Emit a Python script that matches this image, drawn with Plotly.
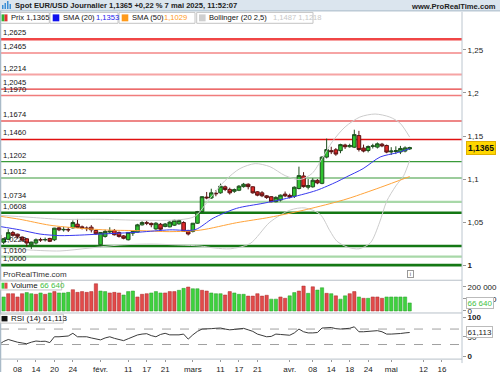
import plotly.graph_objects as go
import pandas as pd

W, H = 500, 375

# ---------------- data ----------------
opens = [1.0351, 1.0266, 1.0300, 1.0378, 1.0360, 1.0326, 1.0306, 1.0237, 1.0257, 1.0296,
         1.0293, 1.0310, 1.0295, 1.0433, 1.0410, 1.0415, 1.0433, 1.0476, 1.0445, 1.0432,
         1.0441, 1.0403, 1.0237, 1.0334, 1.0385, 1.0403, 1.0380, 1.0340, 1.0295, 1.0372,
         1.0384, 1.0468, 1.0493, 1.0485, 1.0421, 1.0475, 1.0450, 1.0445, 1.0464, 1.0480,
         1.0495, 1.0400, 1.0392, 1.0487, 1.0622, 1.0790, 1.0780, 1.0835, 1.0840, 1.0910,
         1.0880, 1.0858, 1.0870, 1.0912, 1.0940, 1.0910, 1.0852, 1.0840, 1.0805, 1.0795,
         1.0737, 1.0756, 1.0825, 1.0810, 1.0800, 1.0890, 1.1036, 1.0905, 1.0910, 1.0985,
         1.0950, 1.1255, 1.1330, 1.1340, 1.1330, 1.1395, 1.1375, 1.1370, 1.1505, 1.1360,
         1.1332, 1.1380, 1.1371, 1.1405, 1.1390, 1.1315, 1.1320, 1.1315, 1.1325, 1.1350]
highs = [1.0367, 1.0315, 1.0418, 1.0398, 1.0365, 1.0335, 1.0315, 1.0272, 1.0310, 1.0318,
         1.0320, 1.0318, 1.0433, 1.0440, 1.0445, 1.0440, 1.0520, 1.0537, 1.0460, 1.0450,
         1.0465, 1.0410, 1.0385, 1.0412, 1.0440, 1.0420, 1.0390, 1.0350, 1.0385, 1.0400,
         1.0480, 1.0510, 1.0515, 1.0495, 1.0500, 1.0490, 1.0490, 1.0510, 1.0528, 1.0530,
         1.0510, 1.0410, 1.0490, 1.0630, 1.0800, 1.0850, 1.0888, 1.0870, 1.0947, 1.0925,
         1.0900, 1.0890, 1.0930, 1.0955, 1.0950, 1.0915, 1.0860, 1.0860, 1.0815, 1.0800,
         1.0800, 1.0820, 1.0855, 1.0830, 1.0915, 1.1144, 1.1080, 1.1000, 1.1010, 1.1000,
         1.1265, 1.1470, 1.1375, 1.1360, 1.1410, 1.1410, 1.1410, 1.1573, 1.1560, 1.1400,
         1.1390, 1.1410, 1.1425, 1.1420, 1.1400, 1.1370, 1.1380, 1.1385, 1.1380, 1.1375]
lows = [1.0226, 1.0243, 1.0290, 1.0330, 1.0310, 1.0280, 1.0215, 1.0188, 1.0240, 1.0270,
        1.0275, 1.0268, 1.0280, 1.0395, 1.0390, 1.0385, 1.0425, 1.0430, 1.0415, 1.0395,
        1.0380, 1.0350, 1.0210, 1.0320, 1.0370, 1.0345, 1.0320, 1.0300, 1.0287, 1.0340,
        1.0380, 1.0460, 1.0465, 1.0440, 1.0410, 1.0410, 1.0440, 1.0440, 1.0455, 1.0470,
        1.0385, 1.0345, 1.0380, 1.0480, 1.0610, 1.0765, 1.0770, 1.0800, 1.0830, 1.0860,
        1.0820, 1.0840, 1.0860, 1.0900, 1.0880, 1.0830, 1.0800, 1.0790, 1.0770, 1.0730,
        1.0730, 1.0740, 1.0790, 1.0775, 1.0780, 1.0880, 1.0900, 1.0880, 1.0900, 1.0940,
        1.0940, 1.1240, 1.1290, 1.1270, 1.1300, 1.1350, 1.1365, 1.1360, 1.1320, 1.1310,
        1.1310, 1.1355, 1.1355, 1.1370, 1.1300, 1.1280, 1.1290, 1.1290, 1.1310, 1.1340]
closes = [1.0266, 1.0307, 1.0378, 1.0346, 1.0335, 1.0290, 1.0257, 1.0268, 1.0295, 1.0293,
          1.0298, 1.0277, 1.0430, 1.0410, 1.0415, 1.0410, 1.0495, 1.0438, 1.0430, 1.0425,
          1.0410, 1.0364, 1.0380, 1.0392, 1.0395, 1.0353, 1.0334, 1.0312, 1.0380, 1.0392,
          1.0468, 1.0495, 1.0488, 1.0470, 1.0487, 1.0418, 1.0478, 1.0500, 1.0520, 1.0518,
          1.0392, 1.0362, 1.0487, 1.0622, 1.0795, 1.0782, 1.0840, 1.0830, 1.0917, 1.0879,
          1.0840, 1.0878, 1.0917, 1.0940, 1.0912, 1.0840, 1.0813, 1.0806, 1.0785, 1.0737,
          1.0787, 1.0813, 1.0805, 1.0790, 1.0905, 1.1040, 1.0912, 1.0925, 1.0986, 1.0955,
          1.1255, 1.1343, 1.1318, 1.1290, 1.1400, 1.1375, 1.1390, 1.1516, 1.1343, 1.1325,
          1.1378, 1.1385, 1.1409, 1.1385, 1.1313, 1.1325, 1.1330, 1.1355, 1.1362, 1.1365]

volumes = [120000, 116000, 143000, 143000, 116000, 143000, 152000, 143000, 138000, 149000,
           138000, 149000, 160000, 149000, 149000, 154000, 176000, 154000, 160000, 154000,
           160000, 225000, 165000, 160000, 149000, 154000, 149000, 132000, 160000, 165000,
           116000, 138000, 143000, 149000, 160000, 149000, 149000, 160000, 160000, 171000,
           187000, 198000, 184000, 184000, 171000, 165000, 149000, 143000, 143000, 132000,
           160000, 149000, 138000, 138000, 123000, 123000, 143000, 123000, 130000, 98000,
           98000, 116000, 105000, 125000, 152000, 165000, 206000, 146000, 200000, 173000,
           192000, 146000, 143000, 125000, 98000, 125000, 143000, 160000, 116000, 105000,
           105000, 116000, 116000, 105000, 116000, 116000, 116000, 116000, 116000, 66640]
volume_up = [0, 1, 0, 0, 0, 0, 1, 1, 0, 1,
             0, 1, 0, 1, 1, 1, 0, 0, 0, 0,
             0, 0, 1, 1, 0, 0, 0, 1, 1, 1,
             0, 0, 0, 1, 1, 1, 0, 0, 0, 1,
             1, 0, 1, 1, 0, 0, 1, 1, 1, 0,
             0, 1, 1, 1, 0, 0, 0, 0, 0, 1,
             1, 0, 0, 1, 1, 0, 0, 1, 0, 1,
             1, 0, 1, 0, 1, 1, 0, 0, 1, 0,
             1, 0, 0, 0, 1, 1, 1, 1, 1, 1]

rsi = [30, 38, 43, 39, 36, 34, 32, 36, 39, 38,
       38.5, 35, 50, 50, 50.4, 52, 59, 50, 50, 50,
       47, 44, 42, 47, 50, 46, 43, 40, 45, 50,
       54.7, 57, 58, 53, 50, 56, 59, 55, 55, 55,
       57, 44, 55, 64, 70, 70, 71, 72, 72.6, 70,
       68, 69, 71, 71.8, 68, 64, 57, 53, 50, 51,
       57, 56, 55, 54, 60, 70, 63, 60, 60, 61,
       72.6, 73, 74, 71, 70, 71, 72, 75.8, 63, 63,
       64, 64.5, 65.8, 63, 57, 57, 57, 58.5, 60, 61.113]

# indicator lines read at points along the picture (x = trading-day index)
sma20_x = [0.2, 4.5, 8.9, 13.2, 17.5, 21.9, 26.2, 30.5, 37.0, 42.5, 46.4, 51.5, 57.2, 62.3, 68.8, 73.2, 75.3, 78.9, 82.6, 86.2, 89]
sma20_y = [1.0449, 1.0410, 1.0361, 1.0343, 1.0349, 1.0361, 1.0372, 1.0384, 1.0410, 1.0412, 1.0545,
           1.0660, 1.0718, 1.0775, 1.0868, 1.0968, 1.1025, 1.1121, 1.1256, 1.1305, 1.1353]
sma50_x = [0.2, 4.5, 11.0, 17.5, 24.0, 30.5, 37.0, 43.6, 51.5, 58.7, 65.9, 73.2, 76.1, 82.6, 89]
sma50_y = [1.0568, 1.0533, 1.0464, 1.0429, 1.0407, 1.0401, 1.0389, 1.0407, 1.0493, 1.0556, 1.0637,
           1.0735, 1.0781, 1.0902, 1.1029]
bb_up_x = [0.2, 6.7, 13.2, 21.9, 30.5, 39.2, 42.5, 45.7, 49.0, 52.2, 55.5, 58.7, 62.0, 65.2, 67.8,
           70.0, 72.2, 75.0, 78.2, 81.5, 84.7, 86.9, 89]
bb_up_y = [1.0579, 1.0556, 1.0533, 1.0533, 1.0522, 1.0528, 1.0568, 1.0775, 1.0983, 1.1121, 1.1179,
           1.1144, 1.1040, 1.0994, 1.1063, 1.1236, 1.1432, 1.1605, 1.1720, 1.1755, 1.1720, 1.1650, 1.1487]
bb_lo_x = [0.2, 6.7, 13.2, 19.7, 26.2, 32.7, 39.2, 43.6, 46.8, 50.1, 54.4, 58.7, 63.1, 66.3, 69.6,
           71.7, 73.2, 75.5, 78.0, 80.5, 82.5, 84.0, 86.0, 87.7, 89]
bb_lo_y = [1.0199, 1.0176, 1.0165, 1.0199, 1.0234, 1.0245, 1.0234, 1.0222, 1.0199, 1.0190, 1.0250,
           1.0499, 1.0640, 1.0665, 1.0590, 1.0400, 1.0280, 1.0210, 1.0190, 1.0260, 1.0500, 1.0740,
           1.0920, 1.1040, 1.1218]

levels = [1.2625, 1.2465, 1.2214, 1.2045, 1.1970, 1.1674, 1.1460,
          1.1202, 1.1012, 1.0734, 1.0608, 1.0222, 1.0100, 1.0000]
level_labels = ["1,2625", "1,2465", "1,2214", "1,2045", "1,1970", "1,1674", "1,1460",
                "1,1202", "1,1012", "1,0734", "1,0608", "1,0222", "1,0100", "1,0000"]
level_colors = ["#f04646", "#f6a4a4", "#f6a4a4", "#e63a3a", "#f07c7c", "#dd1010", "#e01010",
                "#3a9a3a", "#3a9a3a", "#a8d8a8", "#147814", "#147814", "#a8d8a8", "#147814"]
level_widths = [2.5, 2, 2, 1.2, 1.6, 1.2, 1.5, 1.2, 1.2, 2.2, 2.6, 2.6, 2.2, 2.6]

tick_dates = ["2025-01-08", "2025-01-14", "2025-01-20", "2025-01-24", "2025-02-03", "2025-02-11",
              "2025-02-17", "2025-02-21", "2025-03-03", "2025-03-11", "2025-03-17", "2025-03-21",
              "2025-04-01", "2025-04-08", "2025-04-14", "2025-04-18", "2025-04-24", "2025-05-01",
              "2025-05-12", "2025-05-16"]
tick_text = ["08", "14", "20", "24", "févr.", "11", "17", "21", "mars", "11", "17", "21",
             "avr.", "08", "14", "18", "24", "mai", "12", "16"]

# ---------------- figure ----------------
calendar = pd.bdate_range("2025-01-02", "2025-05-30")
cal_index = {d.strftime("%Y-%m-%d"): k for k, d in enumerate(calendar)}
xi = list(range(len(closes)))
tickvals = [cal_index[d] for d in tick_dates]

FONT = "Liberation Sans"
AX_X = 462 / W


def yp(pix):
    return 1 - pix / H


def xp(pix):
    return pix / W


fig = go.Figure()

for xs, ys, col in [(bb_up_x, bb_up_y, "#cccccc"), (bb_lo_x, bb_lo_y, "#cccccc"),
                    (sma50_x, sma50_y, "#ffa33a"), (sma20_x, sma20_y, "#3838ee")]:
    fig.add_trace(go.Scatter(x=xs, y=ys, mode="lines", line=dict(color=col, width=1, shape="spline", smoothing=0.8),
                             hoverinfo="skip", xaxis="x", yaxis="y"))

fig.add_trace(go.Candlestick(
    x=xi, open=opens, high=highs, low=lows, close=closes,
    increasing=dict(line=dict(color="#1f4f1f", width=1), fillcolor="#2fc42f"),
    decreasing=dict(line=dict(color="#5a1414", width=1), fillcolor="#e02828"),
    whiskerwidth=0, hoverinfo="skip", xaxis="x", yaxis="y"))

fig.add_trace(go.Bar(
    x=xi, y=volumes, width=0.72,
    marker=dict(color=["#3ed23e" if u else "#e24a4a" for u in volume_up],
                line=dict(color=["#2a9a2a" if u else "#a82a2a" for u in volume_up], width=0.5)),
    hoverinfo="skip", xaxis="x", yaxis="y2"))

fig.add_trace(go.Scatter(x=xi, y=rsi, mode="lines", line=dict(color="#3a3a3a", width=1),
                         hoverinfo="skip", xaxis="x", yaxis="y3"))

shapes = []
annos = []

# header band
shapes.append(dict(type="rect", xref="paper", yref="paper", x0=0, x1=1, y0=yp(11), y1=1,
                   fillcolor="#dbe5ee", line=dict(width=0), layer="below"))
shapes.append(dict(type="line", xref="paper", yref="paper", x0=0, x1=1, y0=yp(11), y1=yp(11),
                   line=dict(color="#a9bac8", width=1)))
for bx, bh in [(2, 4), (4.5, 6), (7, 8), (9.5, 5)]:
    shapes.append(dict(type="rect", xref="paper", yref="paper", x0=xp(bx), x1=xp(bx + 1.5),
                       y0=yp(9), y1=yp(9 - bh), fillcolor="#3d8fd6", line=dict(width=0)))
annos.append(dict(x=xp(13), y=yp(5.5), xref="paper", yref="paper", xanchor="left", yanchor="middle",
                  text="<b>Spot EUR/USD Journalier 1,1365 +0,22 % 7 mai 2025, 11:52:07</b>",
                  showarrow=False, font=dict(family=FONT, size=7.6, color="#222")))
annos.append(dict(x=xp(498), y=yp(7), xref="paper", yref="paper", xanchor="right", yanchor="middle",
                  text="<b>www.ProRealTime.com</b>", showarrow=False,
                  font=dict(family=FONT, size=7.6, color="#222")))

# legend row boxes
for x0, x1 in [(0, 49.3), (50, 118), (119, 195), (196.7, 313)]:
    shapes.append(dict(type="rect", xref="paper", yref="paper", x0=xp(x0), x1=xp(x1), y0=yp(23.5), y1=yp(12.5),
                       fillcolor="#ffffff", line=dict(color="#c4c4c4", width=1)))
shapes.append(dict(type="rect", xref="paper", yref="paper", x0=xp(1.5), x1=xp(4.5), y0=yp(21.5), y1=yp(14.5),
                   fillcolor="#2fb52f", line=dict(width=0)))
shapes.append(dict(type="rect", xref="paper", yref="paper", x0=xp(4.5), x1=xp(7.5), y0=yp(21.5), y1=yp(14.5),
                   fillcolor="#e03030", line=dict(width=0)))
for x0, col in [(52.7, "#1010ee"), (121.7, "#ff9a1a"), (199, "#cfcfcf")]:
    shapes.append(dict(type="rect", xref="paper", yref="paper", x0=xp(x0), x1=xp(x0 + 6.6), y0=yp(21.5),
                       y1=yp(14.5), fillcolor=col, line=dict(width=0)))
legend_txt = [(10, "Prix 1,1365", "#111"), (61.5, "SMA (20)", "#111"), (94.5, "1,1353", "#2222ee"),
              (131, "SMA (50)", "#111"), (163, "1,1029", "#ff9a1a"),
              (208, "Bollinger (20 2,5)", "#111"), (272, "1,1487 1,1218", "#c8c8c8")]
for x0, t, col in legend_txt:
    annos.append(dict(x=xp(x0), y=yp(18), xref="paper", yref="paper", xanchor="left", yanchor="middle",
                      text=t, showarrow=False, font=dict(family=FONT, size=7.6, color=col),
                      borderpad=0))

# frame lines
shapes.append(dict(type="line", xref="paper", yref="paper", x0=xp(0.5), x1=xp(0.5), y0=0, y1=yp(11),
                   line=dict(color="#a9bac8", width=1.5)))
shapes.append(dict(type="line", xref="paper", yref="paper", x0=AX_X, x1=AX_X, y0=yp(366), y1=yp(12),
                   line=dict(color="#bcc6cf", width=1)))
for py_ in (282.5, 315.5, 362):
    shapes.append(dict(type="line", xref="paper", yref="paper", x0=0, x1=AX_X, y0=yp(py_), y1=yp(py_),
                       line=dict(color="#b8c0c8", width=1)))

# support / resistance levels
for lv, lab, col, wd in zip(levels, level_labels, level_colors, level_widths):
    shapes.append(dict(type="line", xref="paper", yref="y", x0=0, x1=AX_X, y0=lv, y1=lv,
                       line=dict(color=col, width=wd), layer="below"))
    annos.append(dict(x=xp(1.5), y=lv, xref="paper", yref="y", xanchor="left", yanchor="bottom",
                      text=lab, showarrow=False, borderpad=0, yshift=1,
                      font=dict(family=FONT, size=7.6, color="#111")))

# RSI dashed guide lines
for lv in (70, 30):
    shapes.append(dict(type="line", xref="paper", yref="y3", x0=0, x1=AX_X, y0=lv, y1=lv,
                       line=dict(color="#a0a0a0", width=1, dash="dash"), layer="below"))

# pane labels
annos.append(dict(x=xp(1), y=yp(277), xref="paper", yref="paper", xanchor="left", yanchor="middle",
                  text="ProRealTime.com", showarrow=False, font=dict(family=FONT, size=8, color="#333")))
shapes.append(dict(type="rect", xref="paper", yref="paper", x0=0, x1=xp(61.7), y0=yp(292.3), y1=yp(283.3),
                   fillcolor="#ffffff", line=dict(color="#c4c4c4", width=1)))
shapes.append(dict(type="rect", xref="paper", yref="paper", x0=xp(1.5), x1=xp(4.5), y0=yp(291), y1=yp(285),
                   fillcolor="#3ed23e", line=dict(width=0)))
shapes.append(dict(type="rect", xref="paper", yref="paper", x0=xp(4.5), x1=xp(7.5), y0=yp(291), y1=yp(285),
                   fillcolor="#e24a4a", line=dict(width=0)))
annos.append(dict(x=xp(10), y=yp(288), xref="paper", yref="paper", xanchor="left", yanchor="middle",
                  text="Volume <span style='color:#44c044'>66 640</span>", showarrow=False, borderpad=0,
                  font=dict(family=FONT, size=8, color="#111")))
shapes.append(dict(type="rect", xref="paper", yref="paper", x0=0, x1=xp(63.3), y0=yp(325.7), y1=yp(316.7),
                   fillcolor="#ffffff", line=dict(color="#c4c4c4", width=1)))
shapes.append(dict(type="rect", xref="paper", yref="paper", x0=xp(1.5), x1=xp(7.5), y0=yp(324), y1=yp(318.5),
                   fillcolor="#111111", line=dict(width=0)))
annos.append(dict(x=xp(10), y=yp(321.3), xref="paper", yref="paper", xanchor="left", yanchor="middle",
                  text="RSI (14) 61,113", showarrow=False, borderpad=0,
                  font=dict(family=FONT, size=8, color="#111")))
annos.append(dict(x=xp(410.5), y=yp(276), xref="paper", yref="paper", xanchor="center", yanchor="middle",
                  text="i", showarrow=False, borderpad=0, bordercolor="#999", borderwidth=1, bgcolor="#fff",
                  font=dict(family=FONT, size=6, color="#555"), width=5, height=6))

# current value boxes on the right scale
annos.append(dict(x=xp(465.5), y=closes[-1], xref="paper", yref="y", xanchor="left", yanchor="middle",
                  text="<b>1,1365</b>", showarrow=False, bgcolor="#ffd700", bordercolor="#e0b000",
                  borderwidth=1, borderpad=1, font=dict(family=FONT, size=8.5, color="#111")))
annos.append(dict(x=xp(465.5), y=volumes[-1], xref="paper", yref="y2", xanchor="left", yanchor="middle",
                  text="66 640", showarrow=False, bgcolor="#ffffff", bordercolor="#bbbbbb",
                  borderwidth=1, borderpad=0.5, font=dict(family=FONT, size=8, color="#44c044")))
annos.append(dict(x=xp(465.5), y=rsi[-1], xref="paper", yref="y3", xanchor="left", yanchor="middle",
                  text="61,113", showarrow=False, bgcolor="#ffffff", bordercolor="#bbbbbb",
                  borderwidth=1, borderpad=0.5, font=dict(family=FONT, size=8, color="#222")))

# axis ranges from pixel geometry
p_bottom = 1 - (282 - 267.3) / 868
p_top = 1 + (267.3 - 22) / 868
v_lo = -(315 - 313.5) / 12.2 * 100000
v_hi = (313.5 - 282) / 12.2 * 100000
r_lo = -(362 - 359) / 0.39
r_hi = 100 + (320 - 315) / 0.39

tickfont = dict(family=FONT, size=8, color="#222")
yax_common = dict(side="right", anchor="free", position=AX_X, ticks="outside", ticklen=3,
                  tickcolor="#999", showgrid=False, zeroline=False, showline=False, tickfont=tickfont)

fig.update_layout(
    width=W, height=H, margin=dict(l=0, r=0, t=0, b=0),
    paper_bgcolor="#ffffff", plot_bgcolor="#ffffff", showlegend=False, bargap=0.2,
    boxgap=0.12, boxgroupgap=0.12,
    xaxis=dict(domain=[0, AX_X], range=[0.21, 100.34], anchor="y3", tickvals=tickvals, ticktext=tick_text,
               ticks="outside", ticklen=2, tickcolor="#999", showgrid=False, zeroline=False,
               showline=False, tickfont=tickfont, rangeslider=dict(visible=False)),
    yaxis=dict(domain=[yp(282), yp(22)], range=[p_bottom, p_top],
               tickvals=[1.0, 1.05, 1.1, 1.15, 1.2, 1.25],
               ticktext=["<b>1</b>", "1,05", "1,1", "1,15", "1,2", "1,25"], **yax_common),
    yaxis2=dict(domain=[yp(315), yp(282)], range=[v_lo, v_hi], tickvals=[0, 100000, 200000],
                ticktext=["0", "100 000", "200 000"], **yax_common),
    yaxis3=dict(domain=[yp(362), yp(315)], range=[r_lo, r_hi], tickvals=[0, 50, 100],
                ticktext=["<b>0</b>", "50", "<b>100</b>"], **yax_common),
    shapes=shapes, annotations=annos,
)

fig.write_html("out.html", config={"displayModeBar": False},
               post_script="document.body.style.margin='0';document.body.style.padding='0';")
